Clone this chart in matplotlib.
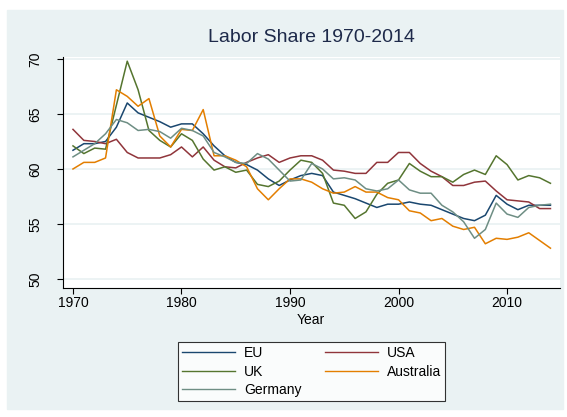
import matplotlib
matplotlib.use("Agg")
import matplotlib.pyplot as plt
from matplotlib.patches import Rectangle

plt.rcParams["font.family"] = ["Liberation Sans", "DejaVu Sans"]

# Data
years = list(range(1970, 2015))

eu = [61.7, 62.3, 62.3, 62.5, 63.8, 66.0, 65.1, 64.7, 64.3, 63.8,
      64.1, 64.1, 63.2, 62.1, 61.2, 60.6, 60.4, 59.9, 59.1, 58.5,
      59.0, 59.4, 59.6, 59.4, 57.9, 57.6, 57.3, 56.9, 56.5, 56.8,
      56.8, 57.0, 56.8, 56.7, 56.3, 55.9, 55.5, 55.3, 55.8, 57.6,
      56.8, 56.3, 56.7, 56.7, 56.7]

usa = [63.6, 62.6, 62.5, 62.3, 62.7, 61.5, 61.0, 61.0, 61.0, 61.3,
       62.0, 61.1, 62.0, 60.8, 60.2, 60.1, 60.6, 61.0, 61.3, 60.6,
       61.0, 61.2, 61.2, 60.8, 59.9, 59.8, 59.6, 59.6, 60.6, 60.6,
       61.5, 61.5, 60.5, 59.8, 59.3, 58.5, 58.5, 58.8, 58.9, 58.0,
       57.2, 57.1, 57.0, 56.4, 56.4]

uk = [62.1, 61.4, 61.9, 61.8, 65.8, 69.8, 67.2, 63.5, 62.6, 62.0,
      63.2, 62.6, 60.9, 59.9, 60.2, 59.7, 59.9, 58.6, 58.4, 58.9,
      59.9, 60.8, 60.6, 59.6, 56.9, 56.7, 55.5, 56.1, 57.7, 58.7,
      59.0, 60.5, 59.8, 59.3, 59.3, 58.8, 59.5, 59.9, 59.5, 61.2,
      60.4, 59.0, 59.4, 59.2, 58.7]

australia = [60.0, 60.6, 60.6, 61.0, 67.2, 66.6, 65.7, 66.4, 63.0, 62.0,
             63.6, 63.5, 65.4, 61.2, 61.2, 60.8, 60.2, 58.2, 57.2, 58.2,
             59.1, 59.1, 58.8, 58.2, 57.8, 57.9, 58.4, 57.9, 57.9, 57.4,
             57.2, 56.2, 56.0, 55.3, 55.5, 54.8, 54.5, 54.7, 53.2, 53.7,
             53.6, 53.8, 54.2, 53.5, 52.8]

germany = [61.1, 61.7, 62.3, 63.2, 64.5, 64.2, 63.5, 63.6, 63.4, 62.8,
           63.7, 63.5, 63.0, 61.5, 61.1, 60.6, 60.5, 61.4, 60.9, 59.9,
           58.9, 59.0, 60.5, 60.0, 59.1, 59.2, 59.0, 58.2, 58.0, 58.2,
           59.0, 58.1, 57.8, 57.8, 56.7, 56.1, 55.2, 53.7, 54.5, 56.9,
           55.9, 55.6, 56.5, 56.7, 56.8]

x_ticks = [1970, 1980, 1990, 2000, 2010]
y_ticks = [50, 55, 60, 65, 70]

# Stata s2color-like colors
bg = "#eaf2f3"
colors = {"EU": "#1a476f", "USA": "#90353b", "UK": "#55752f",
          "Australia": "#e37e00", "Germany": "#6e8e84"}

W, H = 567, 417
fig = plt.figure(figsize=(W / 100, H / 100), dpi=100)
fig.patches.append(Rectangle((7 / W, 1 - 409 / H), 556 / W, 399 / H,
                             transform=fig.transFigure, color=bg, zorder=-1))

ax = fig.add_axes([63 / W, 1 - 288 / H, (560 - 63) / W, (288 - 57) / H])
ax.set_facecolor("white")

lines = {}
for name, vals in [("EU", eu), ("USA", usa), ("UK", uk),
                   ("Australia", australia), ("Germany", germany)]:
    lines[name], = ax.plot(years, vals, color=colors[name], lw=1.1, label=name)

ax.set_xlim(1969.08, 2014.88)
ax.set_ylim(49.18, 70.18)
ax.set_xticks(x_ticks)
ax.set_yticks(y_ticks)
ax.yaxis.grid(True, color=bg, lw=1.3)
ax.set_axisbelow(True)

for s in ["top", "right"]:
    ax.spines[s].set_visible(False)
for s in ["left", "bottom"]:
    ax.spines[s].set_color("black")
    ax.spines[s].set_linewidth(0.8)

ax.tick_params(axis="both", direction="out", length=4, width=0.8,
               labelsize=10, colors="black")
ax.tick_params(axis="y", pad=11)
ax.tick_params(axis="x", pad=2)
for lbl in ax.get_yticklabels():
    lbl.set_rotation(90)
    lbl.set_va("center")

fig.text(311 / W, 1 - 37 / H, "Labor Share 1970-2014", ha="center",
         va="center", fontsize=14, color="#1e2a4a")
fig.text(311 / W, 1 - 320 / H, "Year", ha="center", va="center", fontsize=10)

order = ["EU", "UK", "Germany", "USA", "Australia"]
leg = fig.legend([lines[k] for k in order], order, ncol=2,
                 loc="upper center", bbox_to_anchor=(311.5 / W, 1 - 335 / H),
                 fontsize=10, frameon=True, fancybox=False, edgecolor="black",
                 handlelength=3.8, handletextpad=0.65, columnspacing=1.7,
                 labelspacing=0.32, borderpad=0.3)
leg.get_frame().set_linewidth(0.8)
for h in leg.get_lines():
    h.set_linewidth(1.0)

fig.savefig("out.png", dpi=100)
